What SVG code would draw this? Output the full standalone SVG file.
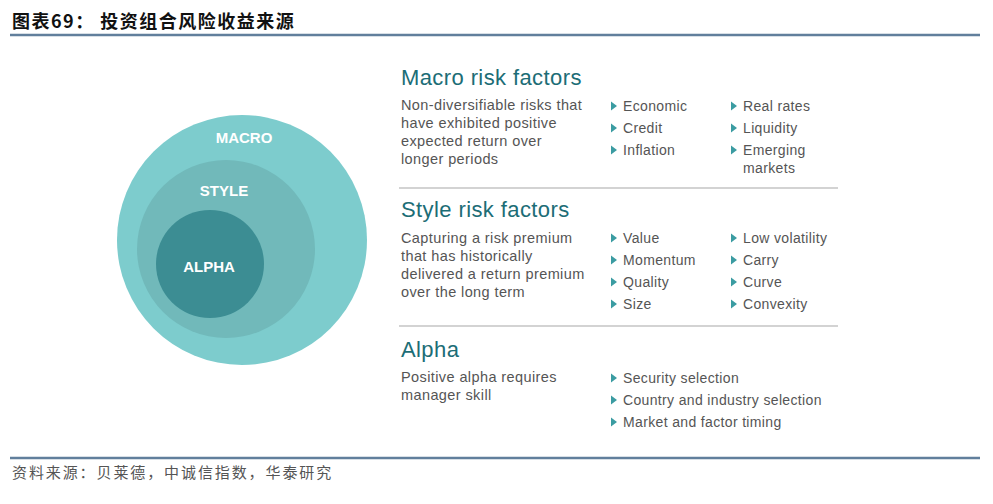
<svg xmlns="http://www.w3.org/2000/svg" width="993" height="504" viewBox="0 0 993 504">
<defs>
<style>
.cn{font-family:"Noto Sans CJK SC","Noto Sans CJK TC",sans-serif}
.ttl{font-size:22px;letter-spacing:0.4px;fill:#1c6d76;font-family:"Liberation Sans",Arial,sans-serif}
.bd{font-size:14.5px;letter-spacing:0.4px;fill:#555;font-family:"Liberation Sans",Arial,sans-serif}
.bl{font-size:14px;letter-spacing:0.35px;fill:#555;font-family:"Liberation Sans",Arial,sans-serif}
.cl{font-size:15px;font-weight:bold;fill:#fff;font-family:"Liberation Sans",Arial,sans-serif;text-anchor:middle}
.sep{stroke:#c4c4c4;stroke-width:1.5}
.rule{stroke:#617f9c;stroke-width:2.5}
</style>
<polygon id="tri" points="0,-4.5 6,0 0,4.5" fill="#3b9ca2"/>
</defs>
<rect width="993" height="504" fill="#fff"/>
<text class="cn" x="12" y="28" font-size="18" font-weight="bold" fill="#111" letter-spacing="1.5">图表69：  投资组合风险收益来源</text>
<line class="rule" x1="10" y1="35" x2="980" y2="35"/>
<g id="macro-circle"><circle cx="242" cy="240" r="125" fill="#7dcccd"/><text class="cl" x="244" y="143">MACRO</text></g>
<g id="style-circle"><circle cx="226" cy="249" r="89" fill="#71b9ba"/><text class="cl" x="224" y="196">STYLE</text></g>
<g id="alpha-circle"><circle cx="210" cy="264" r="54" fill="#3c8d93"/><text class="cl" x="209" y="272">ALPHA</text></g>
<g id="macro-panel">
<text class="ttl" x="401" y="85">Macro risk factors</text>
<text class="bd" x="401" y="110">Non-diversifiable risks that</text>
<text class="bd" x="401" y="128">have exhibited positive</text>
<text class="bd" x="401" y="146">expected return over</text>
<text class="bd" x="401" y="164">longer periods</text>
<use href="#tri" x="611" y="106"/><text class="bl" x="623" y="111">Economic</text>
<use href="#tri" x="611" y="128"/><text class="bl" x="623" y="133">Credit</text>
<use href="#tri" x="611" y="150"/><text class="bl" x="623" y="155">Inflation</text>
<use href="#tri" x="731" y="106"/><text class="bl" x="743" y="111">Real rates</text>
<use href="#tri" x="731" y="128"/><text class="bl" x="743" y="133">Liquidity</text>
<use href="#tri" x="731" y="150"/><text class="bl" x="743" y="155">Emerging</text>
<text class="bl" x="743" y="173">markets</text>
</g>
<line class="sep" x1="399" y1="188" x2="838" y2="188"/>
<g id="style-panel">
<text class="ttl" x="401" y="217">Style risk factors</text>
<text class="bd" x="401" y="243">Capturing a risk premium</text>
<text class="bd" x="401" y="261">that has historically</text>
<text class="bd" x="401" y="279">delivered a return premium</text>
<text class="bd" x="401" y="297">over the long term</text>
<use href="#tri" x="611" y="238"/><text class="bl" x="623" y="243">Value</text>
<use href="#tri" x="611" y="260"/><text class="bl" x="623" y="265">Momentum</text>
<use href="#tri" x="611" y="282"/><text class="bl" x="623" y="287">Quality</text>
<use href="#tri" x="611" y="304"/><text class="bl" x="623" y="309">Size</text>
<use href="#tri" x="731" y="238"/><text class="bl" x="743" y="243">Low volatility</text>
<use href="#tri" x="731" y="260"/><text class="bl" x="743" y="265">Carry</text>
<use href="#tri" x="731" y="282"/><text class="bl" x="743" y="287">Curve</text>
<use href="#tri" x="731" y="304"/><text class="bl" x="743" y="309">Convexity</text>
</g>
<line class="sep" x1="399" y1="326" x2="838" y2="326"/>
<g id="alpha-panel">
<text class="ttl" x="401" y="357">Alpha</text>
<text class="bd" x="401" y="382">Positive alpha requires</text>
<text class="bd" x="401" y="400">manager skill</text>
<use href="#tri" x="611" y="378"/><text class="bl" x="623" y="383">Security selection</text>
<use href="#tri" x="611" y="400"/><text class="bl" x="623" y="405">Country and industry selection</text>
<use href="#tri" x="611" y="422"/><text class="bl" x="623" y="427">Market and factor timing</text>
</g>
<line class="rule" x1="10" y1="458" x2="980" y2="458" stroke-width="2"/>
<text class="cn" x="12" y="478" font-size="15" fill="#555" letter-spacing="1.9">资料来源：贝莱德，中诚信指数，华泰研究</text>
</svg>
